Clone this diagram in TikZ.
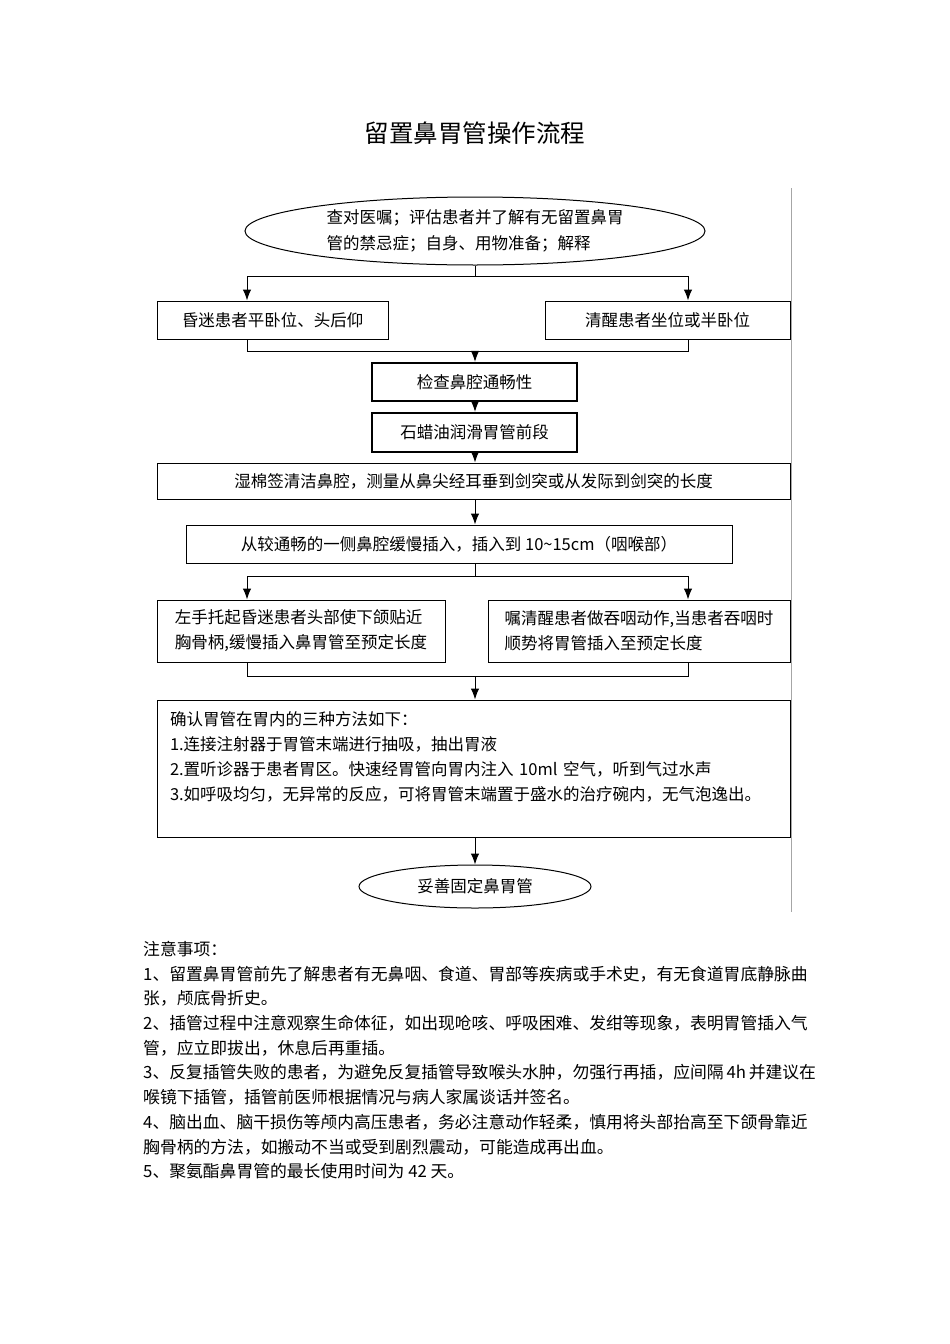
\documentclass[tikz,border=0pt]{standalone}
\usepackage{fontspec}
\setmainfont{Noto Sans CJK SC}
\usetikzlibrary{shapes.geometric}
\usetikzlibrary{arrows.meta}
\newcommand\boxfont{\fontsize{16.5}{25}\selectfont}
\newcommand\notefont{\fontsize{16.8}{24.7}\selectfont}

\begin{document}
\begin{tikzpicture}[x = 1pt, y = -1pt,
  box/.style = {draw, line width = 1pt, inner sep = 0pt, font = \boxfont},
  thickbox/.style = {box, line width = 2.4pt},
  oval/.style = {box, ellipse},
  arr/.style = {line width = 1pt, -{Latex[length = 11pt, width = 8.5pt]}},
  link/.style = {line width = 1pt}]
  \useasboundingbox (0, 0) rectangle (950, 1344);

  \node (title) at (475, 133) {\fontsize{24.5}{28}\selectfont 留置鼻胃管操作流程};
  \draw[gray!70, line width = 1pt] (791, 188) -- (791, 912);

  % branch columns
  \coordinate (xl) at (247, 0);
  \coordinate (xr) at (688, 0);
  \coordinate (xm) at (475, 0);

  \node[oval, minimum width = 460, minimum height = 68, align = left,
    font = \fontsize{16.5}{26}\selectfont] (check0) at (475, 231)
    {查对医嘱；评估患者并了解有无留置鼻胃\\管的禁忌症；自身、用物准备；解释};

  \node[box, minimum width = 231, minimum height = 38] (coma) at (272.5, 320)
    {昏迷患者平卧位、头后仰};
  \node[box, minimum width = 245, minimum height = 38] (awake) at (667.5, 320)
    {清醒患者坐位或半卧位};

  \node[thickbox, minimum width = 205, minimum height = 38] (nose) at (474.5, 382)
    {检查鼻腔通畅性};
  \node[thickbox, minimum width = 205, minimum height = 39] (oil) at (474.5, 432.5)
    {石蜡油润滑胃管前段};

  \node[box, minimum width = 633, minimum height = 36] (wipe) at (473.5, 481)
    {湿棉签清洁鼻腔，测量从鼻尖经耳垂到剑突或从发际到剑突的长度};
  \node[box, minimum width = 546, minimum height = 38] (insert) at (459, 544)
    {从较通畅的一侧鼻腔缓慢插入，插入到 10\textasciitilde15cm（咽喉部）};

  \node[box, minimum width = 288, minimum height = 62, align = left] (comains) at (301, 631)
    {左手托起昏迷患者头部使下颌贴近\\胸骨柄,缓慢插入鼻胃管至预定长度};
  \node[box, minimum width = 302, minimum height = 62, align = left] (awakeins) at (639, 631)
    {嘱清醒患者做吞咽动作,当患者吞咽时\\顺势将胃管插入至预定长度};

  \node[box, minimum width = 633, minimum height = 137, text width = 607, align = left]
    (confirm) at (473.5, 768.5)
    {确认胃管在胃内的三种方法如下：\\
     1.连接注射器于胃管末端进行抽吸，抽出胃液\\
     2.置听诊器于患者胃区。快速经胃管向胃内注入 10ml 空气，听到气过水声\\
     3.如呼吸均匀，无异常的反应，可将胃管末端置于盛水的治疗碗内，无气泡逸出。\\
     ~};

  \node[oval, minimum width = 232, minimum height = 43] (fix) at (475, 886.5)
    {妥善固定鼻胃管};

  % connectors
  \coordinate (j1) at (475, 276);
  \coordinate (m1) at (475, 351);
  \coordinate (j2) at (475, 576);
  \coordinate (m2) at (475, 676);

  \draw[link] (check0.south) -- (j1);
  \draw[arr] (j1) -| (coma.north -| xl);
  \draw[arr] (j1) -| (awake.north -| xr);
  \draw[link] (coma.south -| xl) |- (m1);
  \draw[link] (awake.south -| xr) |- (m1);
  \draw[arr] (m1) -- (nose.north -| m1);
  \draw[arr] (nose.south -| xm) -- (oil.north -| xm);
  \draw[arr] (oil.south -| xm) -- (wipe.north -| xm);
  \draw[arr] (wipe.south -| xm) -- (insert.north -| xm);
  \draw[link] (insert.south -| xm) -- (j2);
  \draw[arr] (j2) -| (comains.north -| xl);
  \draw[arr] (j2) -| (awakeins.north -| xr);
  \draw[link] (comains.south -| xl) |- (m2);
  \draw[link] (awakeins.south -| xr) |- (m2);
  \draw[arr] (m2) -- (confirm.north -| m2);
  \draw[arr] (confirm.south -| xm) -- (fix.north);

  \node[anchor = north west, inner sep = 0pt, align = left, font = \notefont] (notes)
    at (143, 941)
    {注意事项：\\
     1、留置鼻胃管前先了解患者有无鼻咽、食道、胃部等疾病或手术史，有无食道胃底静脉曲\\
     张，颅底骨折史。\\
     2、插管过程中注意观察生命体征，如出现呛咳、呼吸困难、发绀等现象，表明胃管插入气\\
     管，应立即拔出，休息后再重插。\\
     3、反复插管失败的患者，为避免反复插管导致喉头水肿，勿强行再插，应间隔\,4h\,并建议在\\
     喉镜下插管，插管前医师根据情况与病人家属谈话并签名。\\
     4、脑出血、脑干损伤等颅内高压患者，务必注意动作轻柔，慎用将头部抬高至下颌骨靠近\\
     胸骨柄的方法，如搬动不当或受到剧烈震动，可能造成再出血。\\
     5、聚氨酯鼻胃管的最长使用时间为 42 天。};
\end{tikzpicture}
\end{document}
